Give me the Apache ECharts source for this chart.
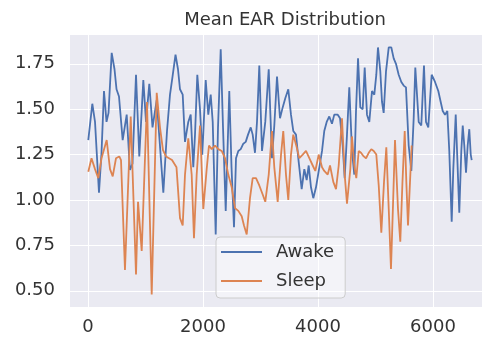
<!DOCTYPE html>
<html>
<head>
<meta charset="utf-8">
<script src="https://cdn.jsdelivr.net/npm/echarts@6/dist/echarts.min.js"></script>
<style>
  html, body { margin: 0; padding: 0; background: #fff; }
  #chart { width: 482px; height: 345px; }
</style>
</head>
<body>
<div id="chart"></div>
<script>
// values
const awakeX = [5, 75, 122, 191, 235, 278, 322, 357, 412, 461, 496, 539, 603, 673, 730, 774, 835, 892, 962, 1009,
  1066, 1122, 1195, 1240, 1310, 1374, 1426, 1470, 1522, 1565, 1600, 1647, 1687, 1744, 1786, 1831, 1861, 1901, 1948, 1988,
  2047, 2092, 2134, 2169, 2221, 2261, 2308, 2348, 2395, 2426, 2457, 2496, 2539, 2574, 2614, 2656, 2701, 2743, 2783, 2830,
  2864, 2904, 2939, 2979, 3026, 3083, 3143, 3200, 3240, 3287, 3339, 3386, 3431, 3483, 3530, 3570, 3617, 3664, 3716, 3762,
  3803, 3838, 3878, 3918, 3965, 4023, 4070, 4109, 4151, 4196, 4243, 4283, 4343, 4383, 4429, 4464, 4504, 4544, 4591, 4631,
  4661, 4696, 4736, 4777, 4812, 4852, 4892, 4939, 4979, 5014, 5043, 5083, 5113, 5142, 5183, 5230, 5275, 5316, 5356, 5403,
  5449, 5490, 5530, 5577, 5623, 5664, 5692, 5751, 5796, 5843, 5878, 5918, 5948, 5977, 6035, 6092, 6134, 6169, 6209, 6249,
  6283, 6325, 6353, 6395, 6425, 6457, 6492, 6517, 6544, 6574, 6603, 6631, 6656, 6673];
const awakeY = [1.33, 1.53, 1.43, 1.04, 1.26, 1.60, 1.43, 1.48, 1.81, 1.72, 1.61, 1.57, 1.33, 1.47, 1.165, 1.20, 1.69, 1.24, 1.66, 1.43,
  1.64, 1.40, 1.55, 1.35, 1.04, 1.38, 1.58, 1.68, 1.80, 1.72, 1.61, 1.58, 1.32, 1.43, 1.47, 1.18, 1.36, 1.69, 1.50, 1.25,
  1.66, 1.47, 1.58, 1.43, 0.81, 1.40, 1.83, 1.40, 0.94, 1.27, 1.60, 1.18, 0.85, 1.23, 1.27, 1.28, 1.31, 1.32, 1.36, 1.40,
  1.36, 1.26, 1.43, 1.74, 1.27, 1.43, 1.72, 1.23, 1.41, 1.68, 1.45, 1.51, 1.56, 1.61, 1.47, 1.38, 1.36, 1.21, 1.06, 1.17,
  1.11, 1.19, 1.07, 1.01, 1.07, 1.18, 1.27, 1.38, 1.43, 1.46, 1.42, 1.47, 1.47, 1.45, 1.30, 1.12, 1.36, 1.62, 1.27, 1.14,
  1.49, 1.78, 1.51, 1.50, 1.73, 1.47, 1.43, 1.60, 1.58, 1.69, 1.84, 1.71, 1.54, 1.48, 1.71, 1.84, 1.84, 1.78, 1.75, 1.69,
  1.65, 1.63, 1.62, 1.30, 1.16, 1.45, 1.73, 1.43, 1.41, 1.74, 1.43, 1.40, 1.55, 1.69, 1.65, 1.60, 1.54, 1.49, 1.47, 1.49,
  1.27, 0.88, 1.17, 1.47, 1.21, 0.93, 1.27, 1.41, 1.30, 1.15, 1.30, 1.39, 1.25, 1.22];

const sleepX = [5, 61, 122, 179, 235, 325, 383, 430, 487, 544, 574, 643, 743, 835, 870, 934, 1026, 1108, 1195, 1252,
  1304, 1357, 1409, 1461, 1539, 1600, 1647, 1687, 1744, 1803, 1843, 1890, 1948, 2005, 2064, 2104, 2151, 2209, 2266, 2325,
  2383, 2440, 2499, 2557, 2614, 2673, 2713, 2760, 2817, 2864, 2922, 2979, 3038, 3083, 3143, 3200, 3240, 3299, 3357, 3396,
  3443, 3483, 3530, 3570, 3630, 3675, 3734, 3791, 3849, 3908, 3953, 4012, 4070, 4109, 4169, 4209, 4266, 4313, 4360, 4417,
  4464, 4504, 4562, 4591, 4631, 4666, 4708, 4748, 4795, 4835, 4882, 4927, 4969, 5014, 5056, 5101, 5148, 5188, 5230, 5269,
  5304, 5339, 5391, 5431, 5469, 5508, 5536, 5565, 5600, 5629];
const sleepY = [1.156, 1.23, 1.17, 1.12, 1.23, 1.33, 1.17, 1.13, 1.23, 1.24, 1.22, 0.615, 1.46, 0.59, 0.99, 0.72, 1.54, 0.48, 1.59, 1.40,
  1.275, 1.24, 1.23, 1.22, 1.18, 0.90, 0.86, 1.14, 1.34, 1.14, 0.79, 1.14, 1.41, 0.95, 1.17, 1.30, 1.28, 1.30, 1.28, 1.27,
  1.23, 1.14, 1.07, 0.955, 0.94, 0.91, 0.86, 0.81, 1.01, 1.12, 1.12, 1.08, 1.03, 0.99, 1.14, 1.38, 1.18, 0.99, 1.25, 1.38,
  1.14, 1.00, 1.25, 1.36, 1.29, 1.23, 1.25, 1.27, 1.23, 1.19, 1.16, 1.25, 1.18, 1.16, 1.14, 1.19, 1.10, 1.06, 1.19, 1.45,
  1.14, 0.98, 1.17, 1.35, 1.19, 1.12, 1.27, 1.26, 1.24, 1.23, 1.26, 1.28, 1.27, 1.25, 1.08, 0.82, 1.10, 1.29, 0.95, 0.62,
  0.97, 1.33, 0.95, 0.77, 1.10, 1.38, 1.10, 0.86, 1.10, 1.30];

const xTicks = [0, 2000, 4000, 6000];
const yTicks = [0.5, 0.75, 1.0, 1.25, 1.5, 1.75];

const zip = (xs, ys) => xs.map((x, i) => [x, ys[i]]);

const textColor = "#333";
const chart = echarts.init(document.getElementById("chart"), null, { renderer: "canvas" });
chart.setOption({
  animation: false,
  title: {
    text: "Mean EAR Distribution",
    left: 280,
    top: 6,
    textAlign: "center",
    textStyle: { fontFamily: "DejaVu Sans", fontSize: 18, fontWeight: "normal", color: textColor },
  },
  grid: {
    left: 70,
    right: 0,
    top: 35,
    bottom: 38,
    show: true,
    backgroundColor: "#EAEAF2",
    borderWidth: 0,
    outerBoundsMode: "none",
  },
  legend: {
    orient: "vertical",
    left: 216,
    top: 237,
    icon: "rect",
    itemWidth: 41,
    itemHeight: 2,
    itemGap: 9,
    padding: [5, 11, 7, 5],
    backgroundColor: "rgba(255,255,255,0.45)",
    borderColor: "#cccccc",
    borderWidth: 1,
    borderRadius: 4,
    textStyle: { fontFamily: "DejaVu Sans", fontSize: 18, lineHeight: 20, color: textColor, padding: [0, 0, 0, 9] },
    data: ["Awake", "Sleep"],
  },
  xAxis: {
    type: "value",
    min: -313,
    max: 6852,
    axisLine: { show: false },
    axisTick: { show: false, customValues: xTicks },
    axisLabel: {
      customValues: xTicks,
      margin: 11,
      fontFamily: "DejaVu Sans",
      fontSize: 18,
      color: textColor,
      formatter: (v) => String(v),
    },
    splitLine: { show: true, lineStyle: { color: "#ffffff", width: 1 } },
  },
  yAxis: {
    type: "value",
    min: 0.4108,
    max: 1.9086,
    axisLine: { show: false },
    axisTick: { show: false, customValues: yTicks },
    axisLabel: {
      customValues: yTicks,
      margin: 15,
      fontFamily: "DejaVu Sans",
      fontSize: 18,
      color: textColor,
      formatter: (v) => v.toFixed(2),
    },
    splitLine: { show: true, lineStyle: { color: "#ffffff", width: 1 } },
  },
  series: [
    {
      name: "Awake",
      type: "line",
      data: zip(awakeX, awakeY),
      symbol: "none",
      lineStyle: { color: "#4C72B0", width: 1.8 },
      itemStyle: { color: "#4C72B0" },
    },
    {
      name: "Sleep",
      type: "line",
      data: zip(sleepX, sleepY),
      symbol: "none",
      lineStyle: { color: "#DD8452", width: 1.8 },
      itemStyle: { color: "#DD8452" },
    },
  ],
});
</script>
</body>
</html>
